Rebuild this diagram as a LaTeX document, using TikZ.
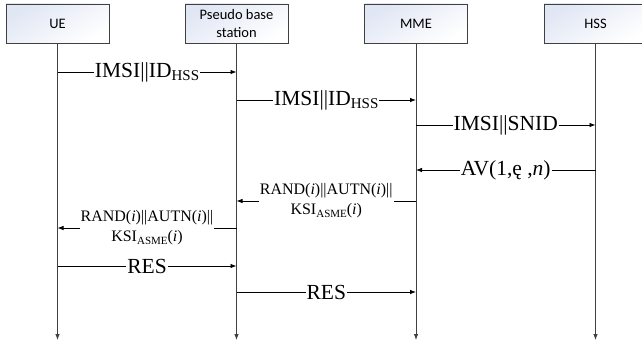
\documentclass[tikz,border=0pt]{standalone}
\usepackage{fontspec}
\setmainfont{Liberation Serif}
\newfontfamily\boxfont{Carlito}
\usetikzlibrary{arrows.meta,calc}
\definecolor{boxtop}{RGB}{224,230,244}
\newcommand{\lowtxt}[2][15]{\raisebox{-0.35ex}{\fontsize{#1}{#1}\selectfont #2}}
\tikzset{
	entity/.style={draw=black!75, line width=0.8pt, top color=boxtop, bottom color=white, shading angle=30,
		minimum width=103pt, minimum height=39pt, inner sep=0pt, align=center,
		font=\boxfont\fontsize{14.5}{18}\selectfont},
	lifeline/.style={draw=black!75, line width=0.8pt, -{Latex[length=6pt,width=4.5pt]}},
	msg/.style={line width=0.8pt, -{Latex[length=6pt,width=4.5pt]}},
	msglabel/.style={fill=white, inner sep=1pt, font=\fontsize{21.5}{24}\selectfont},
	msgsmall/.style={fill=white, inner sep=1pt, align=center, font=\fontsize{16}{20}\selectfont}
}

\begin{document}
\begin{tikzpicture}[x=1pt, y=-1pt]
	%%%%% START %%%%%
	\useasboundingbox (0, 0) rectangle (642, 347);
	\clip (0, 0) rectangle (642, 347);
	
	\node[entity] (ue) at (57.5, 23.5) {UE};
	\node[entity] (pbs) at (236.5, 23.5) {Pseudo base\\station};
	\node[entity] (mme) at (416, 23.5) {MME};
	\node[entity] (hss) at (595.5, 23.5) {HSS};
	
	\coordinate (ue-end) at (ue.south |- 0, 340);
	\coordinate (pbs-end) at (pbs.south |- 0, 340);
	\coordinate (mme-end) at (mme.south |- 0, 340);
	\coordinate (hss-end) at (hss.south |- 0, 340);
	
	\draw[lifeline] (ue.south) -- (ue-end);
	\draw[lifeline] (pbs.south) -- (pbs-end);
	\draw[lifeline] (mme.south) -- (mme-end);
	\draw[lifeline] (hss.south) -- (hss-end);
	
	% attach request
	\coordinate (ue-1) at (ue.south |- 0, 72);
	\coordinate (pbs-1) at (pbs.south |- 0, 72);
	\draw[msg] (ue-1) -- node[msglabel] (m1) {IMSI||ID\lowtxt{HSS}} (pbs-1);
	
	\coordinate (pbs-2) at (pbs.south |- 0, 100);
	\coordinate (mme-2) at (mme.south |- 0, 100);
	\draw[msg] (pbs-2) -- node[msglabel] (m2) {IMSI||ID\lowtxt{HSS}} (mme-2);
	
	\coordinate (mme-3) at (mme.south |- 0, 125);
	\coordinate (hss-3) at (hss.south |- 0, 125);
	\draw[msg] (mme-3) -- node[msglabel] (m3) {IMSI||SNID} (hss-3);
	
	\coordinate (hss-4) at (hss.south |- 0, 170);
	\coordinate (mme-4) at (mme.south |- 0, 170);
	\draw[msg] (hss-4) -- node[msglabel] (m4) {AV(1,ę ,\textit{n})} (mme-4);
	
	% challenge
	\coordinate (mme-5) at (mme.south |- 0, 201);
	\coordinate (pbs-5) at (pbs.south |- 0, 201);
	\draw[msg] (mme-5) -- node[msgsmall] (m5) {RAND(\textit{i})||AUTN(\textit{i})||\\KSI\lowtxt[11]{ASME}(\textit{i})} (pbs-5);
	
	\coordinate (pbs-6) at (pbs.south |- 0, 228);
	\coordinate (ue-6) at (ue.south |- 0, 228);
	\draw[msg] (pbs-6) -- node[msgsmall] (m6) {RAND(\textit{i})||AUTN(\textit{i})||\\KSI\lowtxt[11]{ASME}(\textit{i})} (ue-6);
	
	% response
	\coordinate (ue-7) at (ue.south |- 0, 266);
	\coordinate (pbs-7) at (pbs.south |- 0, 266);
	\draw[msg] (ue-7) -- node[msglabel] (m7) {RES} (pbs-7);
	
	\coordinate (pbs-8) at (pbs.south |- 0, 292);
	\coordinate (mme-8) at (mme.south |- 0, 292);
	\draw[msg] (pbs-8) -- node[msglabel] (m8) {RES} (mme-8);
	
	%%%%% END %%%%%
\end{tikzpicture}
\end{document}
